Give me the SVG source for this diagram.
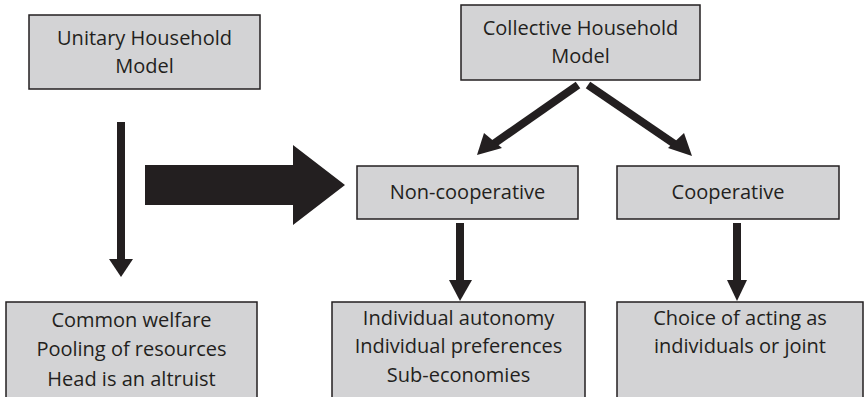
<svg xmlns="http://www.w3.org/2000/svg" width="865" height="397" viewBox="0 0 865 397">
  <style>
    .box { fill: #d3d3d5; stroke: #231f20; stroke-width: 1.5; }
    .lbl { font-family: "Open Sans", "Noto Sans", sans-serif; font-size: 20px; fill: #231f20; text-anchor: middle; }
    .shaft { stroke: #231f20; stroke-width: 8; fill: none; }
    .head { fill: #231f20; }
  </style>
  <rect width="865" height="397" fill="#ffffff"/>

  <g id="unitary">
    <rect class="box" x="29" y="15" width="231" height="74"/>
    <text class="lbl" x="144.5" y="45">Unitary Household</text>
    <text class="lbl" x="144.5" y="73">Model</text>
  </g>

  <g id="collective">
    <rect class="box" x="461" y="5" width="239" height="75"/>
    <text class="lbl" x="580.5" y="35">Collective Household</text>
    <text class="lbl" x="580.5" y="63">Model</text>
  </g>

  <g id="noncooperative">
    <rect class="box" x="357" y="166" width="221" height="53"/>
    <text class="lbl" x="467.5" y="199">Non-cooperative</text>
  </g>

  <g id="cooperative">
    <rect class="box" x="617" y="166" width="222" height="53"/>
    <text class="lbl" x="728" y="199">Cooperative</text>
  </g>

  <g id="unitary-outcomes">
    <rect class="box" x="6" y="302" width="251" height="110"/>
    <text class="lbl" x="131.5" y="327">Common welfare</text>
    <text class="lbl" x="131.5" y="356">Pooling of resources</text>
    <text class="lbl" x="131.5" y="386">Head is an altruist</text>
  </g>

  <g id="noncooperative-outcomes">
    <rect class="box" x="332" y="302" width="253" height="110"/>
    <text class="lbl" x="458.5" y="325">Individual autonomy</text>
    <text class="lbl" x="458.5" y="353">Individual preferences</text>
    <text class="lbl" x="458.5" y="382">Sub-economies</text>
  </g>

  <g id="cooperative-outcomes">
    <rect class="box" x="617" y="302" width="246" height="110"/>
    <text class="lbl" x="740" y="325">Choice of acting as</text>
    <text class="lbl" x="740" y="353">individuals or joint</text>
  </g>

  <g id="connectors">
    <!-- unitary model down to its outcomes -->
    <line class="shaft" x1="121" y1="122" x2="121" y2="262"/>
    <path class="head" d="M109,259 L133,259 L121,277 z"/>
    <!-- collective model splits into the two branches -->
    <line class="shaft" x1="578" y1="85" x2="492" y2="145"/>
    <path class="head" d="M477,155 L484,133 L502,148 z"/>
    <line class="shaft" x1="588" y1="85" x2="676" y2="145"/>
    <path class="head" d="M692,156 L668,148 L684,133 z"/>
    <!-- branches down to their outcomes -->
    <line class="shaft" x1="460" y1="223" x2="460" y2="284"/>
    <path class="head" d="M449,280 L472,280 L460,301 z"/>
    <line class="shaft" x1="737" y1="223" x2="737" y2="284"/>
    <path class="head" d="M727,280 L747,280 L737,301 z"/>
    <!-- broad transition arrow -->
    <path class="head" d="M145,165 L293,165 L293,145 L345,185 L293,225 L293,205 L145,205 z"/>
  </g>
</svg>
